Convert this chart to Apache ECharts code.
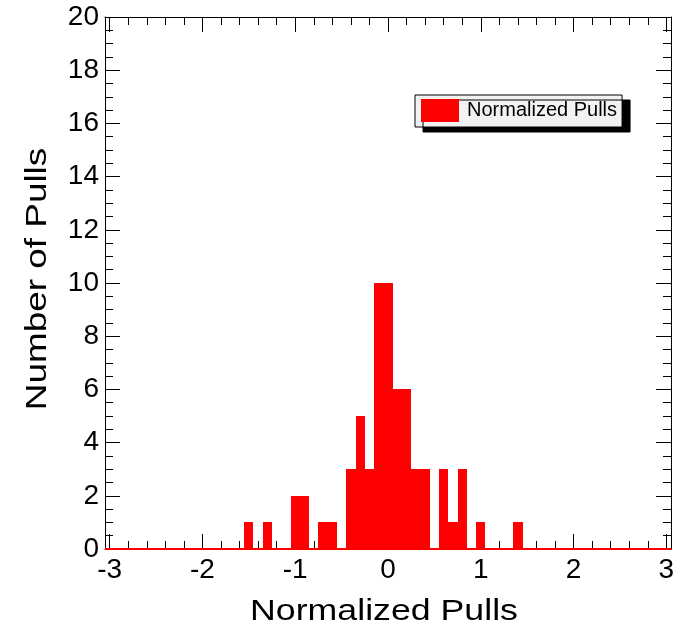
<!DOCTYPE html>
<html>
<head>
<meta charset="utf-8">
<script src="https://cdn.jsdelivr.net/npm/echarts@6/dist/echarts.min.js"></script>
<style>
  html, body { margin: 0; padding: 0; background: #ffffff; }
  #chart { width: 685px; height: 633px; }
</style>
</head>
<body>
<div id="chart"></div>
<script>
// ---- data ----
const binCenters = [-1.5, -1.3, -1.0, -0.9, -0.7, -0.6, -0.4, -0.3, -0.2, -0.1, 0.0, 0.1, 0.2, 0.3, 0.4, 0.6, 0.7, 0.8, 1.0, 1.4];
const binCounts  = [1, 1, 2, 2, 1, 1, 3, 5, 3, 10, 10, 6, 6, 3, 3, 3, 1, 3, 1, 1];
const binWidth = 0.1;
const xRange = [-3.05, 3.05];
const xMajorTicks = [-3, -2, -1, 0, 1, 2, 3];
const xMinorTicks = [-2.8, -2.6, -2.4, -2.2, -1.8, -1.6, -1.4, -1.2, -0.8, -0.6, -0.4, -0.2,
                     0.2, 0.4, 0.6, 0.8, 1.2, 1.4, 1.6, 1.8, 2.2, 2.4, 2.6, 2.8];
const yRange = [0, 20];
const yInterval = 2;
const seriesName = 'Normalized Pulls';
const xTitle = 'Normalized Pulls';
const yTitle = 'Number of Pulls';

const FONT = '"Liberation Sans", Arial, Helvetica, sans-serif';
const chart = echarts.init(document.getElementById('chart'), null, { renderer: 'canvas' });

function xAxisDef(position, ticks, len, showLine, showLabel) {
  return {
    type: 'value', position: position, min: xRange[0], max: xRange[1],
    axisLine: { show: showLine, onZero: false, lineStyle: { color: '#000', width: 1 } },
    axisTick: { show: true, inside: true, length: len, customValues: ticks, lineStyle: { color: '#000', width: 1 } },
    axisLabel: showLabel ? { show: true, customValues: ticks, fontSize: 28, color: '#000', fontFamily: FONT, margin: 7 } : { show: false },
    splitLine: { show: false }, minorTick: { show: false }
  };
}
function yAxisDef(position, showLabel) {
  return {
    type: 'value', position: position, min: yRange[0], max: yRange[1], interval: yInterval,
    axisLine: { show: true, onZero: false, lineStyle: { color: '#000', width: 1 } },
    axisTick: { show: true, inside: true, length: 15, lineStyle: { color: '#000', width: 1 } },
    minorTick: { show: true, splitNumber: 4, length: 8, lineStyle: { color: '#000', width: 1 } },
    axisLabel: showLabel ? { show: true, fontSize: 28, color: '#000', fontFamily: FONT, margin: 6, padding: [7, 0, 0, 0] } : { show: false },
    splitLine: { show: false }, minorSplitLine: { show: false }
  };
}

const option = {
  animation: false,
  backgroundColor: '#ffffff',
  grid: { left: 105, right: 14, top: 17, bottom: 84, containLabel: false },
  xAxis: [
    xAxisDef('bottom', xMajorTicks, 15, true, true),
    xAxisDef('bottom', xMinorTicks, 8, false, false),
    xAxisDef('top', xMajorTicks, 15, true, false),
    xAxisDef('top', xMinorTicks, 8, false, false)
  ],
  yAxis: [ yAxisDef('left', true), yAxisDef('right', false) ],
  legend: {
    show: true, left: 415, top: 95, orient: 'horizontal',
    data: [{ name: seriesName, icon: 'rect' }],
    itemWidth: 38, itemHeight: 23,
    padding: [4, 5, 5, 6],
    backgroundColor: '#f2f2f2', borderColor: '#000', borderWidth: 1, borderRadius: 0,
    shadowColor: '#000', shadowBlur: 0, shadowOffsetX: 8, shadowOffsetY: 5,
    textStyle: { fontSize: 20, color: '#000', fontFamily: FONT, padding: [0, 0, 0, 3] },
    selectedMode: false
  },
  graphic: [
    { type: 'text', x: 384, y: 612, scaleX: 1.19, silent: true,
      style: { text: xTitle, fontSize: 30, fontFamily: FONT, fill: '#000', textAlign: 'center', textVerticalAlign: 'middle' } },
    { type: 'text', x: 37.5, y: 279, rotation: Math.PI / 2, scaleX: 1.23, silent: true,
      style: { text: yTitle, fontSize: 30, fontFamily: FONT, fill: '#000', textAlign: 'center', textVerticalAlign: 'middle' } }
  ],
  series: [
    {
      name: seriesName, type: 'custom', xAxisIndex: 0, yAxisIndex: 0,
      itemStyle: { color: '#ff0000' },
      data: binCenters.map((c, i) => [c, binCounts[i]]),
      renderItem: function (params, api) {
        const c = api.value(0), v = api.value(1);
        const p0 = api.coord([c - binWidth / 2, v]);
        const p1 = api.coord([c + binWidth / 2, 0]);
        const x0 = Math.round(p0[0]), x1 = Math.round(p1[0]);
        const y0 = Math.round(p0[1]), y1 = Math.round(p1[1]);
        return {
          type: 'rect',
          shape: { x: x0, y: y0, width: x1 - x0, height: y1 - y0 },
          style: { fill: '#ff0000' }
        };
      }
    },
    {
      name: 'baseline', type: 'line', xAxisIndex: 0, yAxisIndex: 0,
      data: [[xRange[0], 0], [xRange[1], 0]],
      symbol: 'none', silent: true, z: 3,
      lineStyle: { color: '#ff0000', width: 2 }
    }
  ]
};
chart.setOption(option);
</script>
</body>
</html>
